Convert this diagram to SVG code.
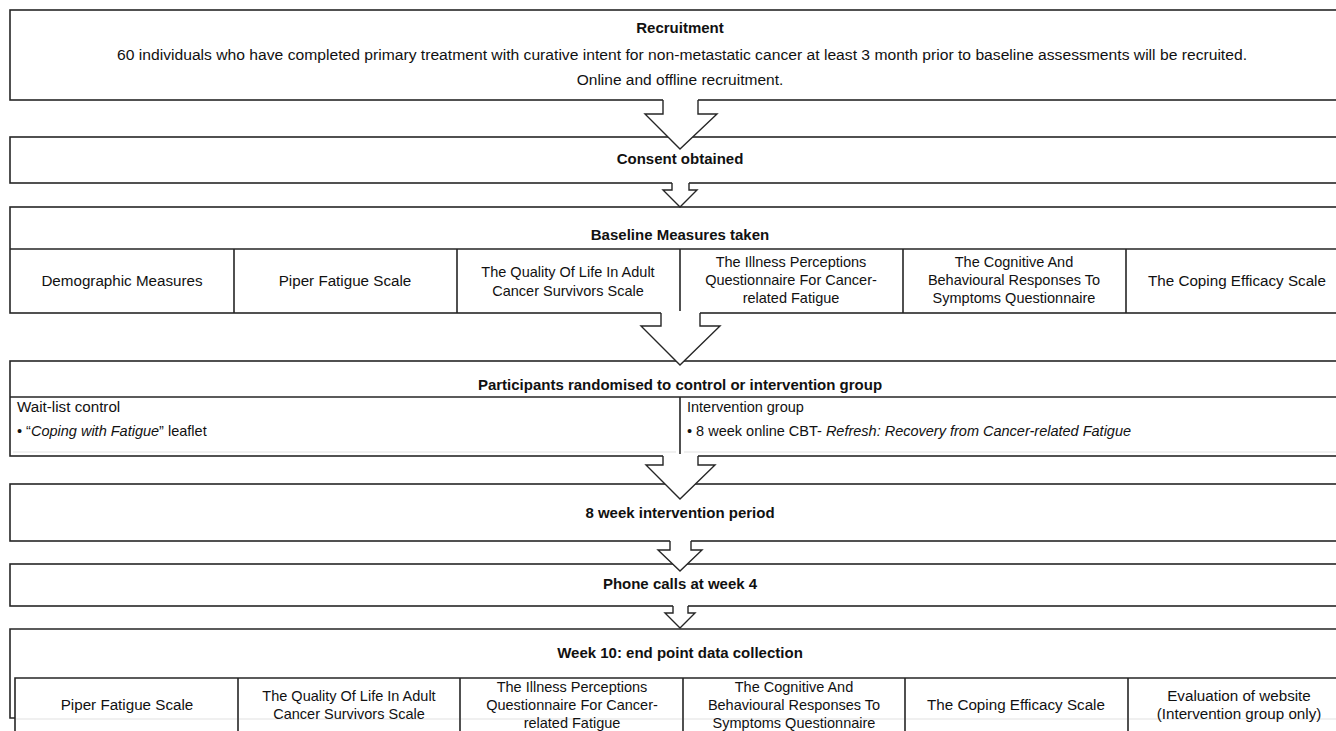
<svg xmlns="http://www.w3.org/2000/svg" width="1336" height="731" viewBox="0 0 1336 731">
<style>
.box{fill:#fff;stroke:#262626;stroke-width:1.6}
.ln{stroke:#262626;stroke-width:1.6;fill:none}
.faint{stroke:#e2e2e2;stroke-width:1.2;fill:none}
.arw{fill:#fff;stroke:none}
.arwl{fill:none;stroke:#262626;stroke-width:1.4;stroke-linejoin:miter}
text{font-family:"Liberation Sans",Arial,sans-serif;font-size:14.5px;fill:#111}
.h{font-weight:bold;font-size:15px;text-anchor:middle}
.c{text-anchor:middle}
.s{font-size:15.2px}
.r{font-size:15.5px;text-anchor:middle}
.i{font-style:italic}
</style>
<rect width="1336" height="731" fill="#fff"/>

<g id="recruitment">
<rect class="box" x="10" y="10" width="1340" height="90"/>
<text class="h" x="680" y="33">Recruitment</text>
<text class="r" x="682" y="60" textLength="1130" lengthAdjust="spacingAndGlyphs">60 individuals who have completed primary treatment with curative intent for non-metastatic cancer at least 3 month  prior to  baseline assessments will be recruited.</text>
<text class="r" x="680" y="85">Online and offline recruitment.</text>
</g>

<g id="consent">
<rect class="box" x="10" y="137" width="1340" height="46"/>
<text class="h" x="680" y="164">Consent obtained</text>
</g>

<g id="baseline">
<rect class="box" x="10" y="207" width="1340" height="106"/>
<path class="ln" d="M10 249H1350M234 249V313M457 249V313M680 249V313M903 249V313M1126 249V313"/>
<text class="h" x="680" y="240">Baseline Measures taken</text>
<text class="c s" x="122" y="286">Demographic Measures</text>
<text class="c s" x="345" y="286">Piper Fatigue Scale</text>
<text class="c" x="568" y="277">The Quality Of Life In Adult</text>
<text class="c" x="568" y="296">Cancer Survivors  Scale</text>
<text class="c" x="791" y="267">The Illness Perceptions</text>
<text class="c" x="791" y="285">Questionnaire For Cancer-</text>
<text class="c" x="791" y="303">related Fatigue</text>
<text class="c" x="1014" y="267">The Cognitive And</text>
<text class="c" x="1014" y="285">Behavioural Responses To</text>
<text class="c" x="1014" y="303">Symptoms  Questionnaire</text>
<text class="c s" x="1237" y="286">The Coping Efficacy Scale</text>
</g>

<g id="randomisation">
<rect class="box" x="10" y="361" width="1340" height="95"/>
<path class="ln" d="M10 397H1350M680 397V456"/>
<path class="faint" d="M13 452H676M684 452H1336"/>
<text class="h" x="680" y="390">Participants randomised to control or intervention group</text>
<text x="17" y="412" class="s">Wait-list control</text>
<text x="17" y="436">• “<tspan class="i">Coping with Fatigue</tspan>” leaflet</text>
<text x="687" y="412">Intervention  group</text>
<text x="687" y="436">• 8 week online CBT- <tspan class="i">Refresh: Recovery from Cancer-related Fatigue</tspan></text>
</g>

<g id="intervention-period">
<rect class="box" x="10" y="484" width="1340" height="57"/>
<text class="h" x="680" y="518">8 week intervention period</text>
</g>

<g id="phone-calls">
<rect class="box" x="10" y="564" width="1340" height="42"/>
<text class="h" x="680" y="589">Phone calls at week 4</text>
</g>

<g id="week10">
<path class="ln" d="M15 718H10V629H1350"/>
<text class="h" x="680" y="658">Week 10:  end point data collection</text>
<path class="ln" d="M15 740V678H1350M238 678V740M460 678V740M683 678V740M905 678V740M1128 678V740"/>
<path class="faint" d="M16 719H237M239 719H459M461 719H682M684 719H904M906 719H1127M1129 719H1336"/>
<text class="c s" x="127" y="710">Piper Fatigue Scale</text>
<text class="c" x="349" y="701">The Quality Of Life In Adult</text>
<text class="c" x="349" y="719">Cancer Survivors  Scale</text>
<text class="c" x="572" y="692">The Illness Perceptions</text>
<text class="c" x="572" y="710">Questionnaire For Cancer-</text>
<text class="c" x="572" y="728">related Fatigue</text>
<text class="c" x="794" y="692">The Cognitive And</text>
<text class="c" x="794" y="710">Behavioural Responses To</text>
<text class="c" x="794" y="728">Symptoms  Questionnaire</text>
<text class="c s" x="1016" y="710">The Coping Efficacy Scale</text>
<text class="c s" x="1239" y="701">Evaluation of website</text>
<text class="c s" x="1239" y="719">(Intervention  group only)</text>
</g>

<g id="connectors">
<polygon class="arw" points="663,98 663,114 645,114 680,149 717,114 698,114 698,98"/>
<polyline class="arwl" points="663,100 663,114 645,114 680,149 717,114 698,114 698,100"/>
<polygon class="arw" points="672,181 672,190 663,190 680,207 697,190 689,190 689,181"/>
<polyline class="arwl" points="672,183 672,190 663,190 680,207 697,190 689,190 689,183"/>
<polygon class="arw" points="661,311 661,326 641,326 680,365 720,326 700,326 700,311"/>
<polyline class="arwl" points="661,313 661,326 641,326 680,365 720,326 700,326 700,313"/>
<polygon class="arw" points="663,454 663,465 646,465 680,499 715,465 698,465 698,454"/>
<polyline class="arwl" points="663,456 663,465 646,465 680,499 715,465 698,465 698,456"/>
<polygon class="arw" points="670,539 670,550 658,550 680,571 702,550 691,550 691,539"/>
<polyline class="arwl" points="670,541 670,550 658,550 680,571 702,550 691,550 691,541"/>
<polygon class="arw" points="673,604 673,613 665,613 680,628 695,613 688,613 688,604"/>
<polyline class="arwl" points="673,606 673,613 665,613 680,628 695,613 688,613 688,606"/>
</g>
</svg>
